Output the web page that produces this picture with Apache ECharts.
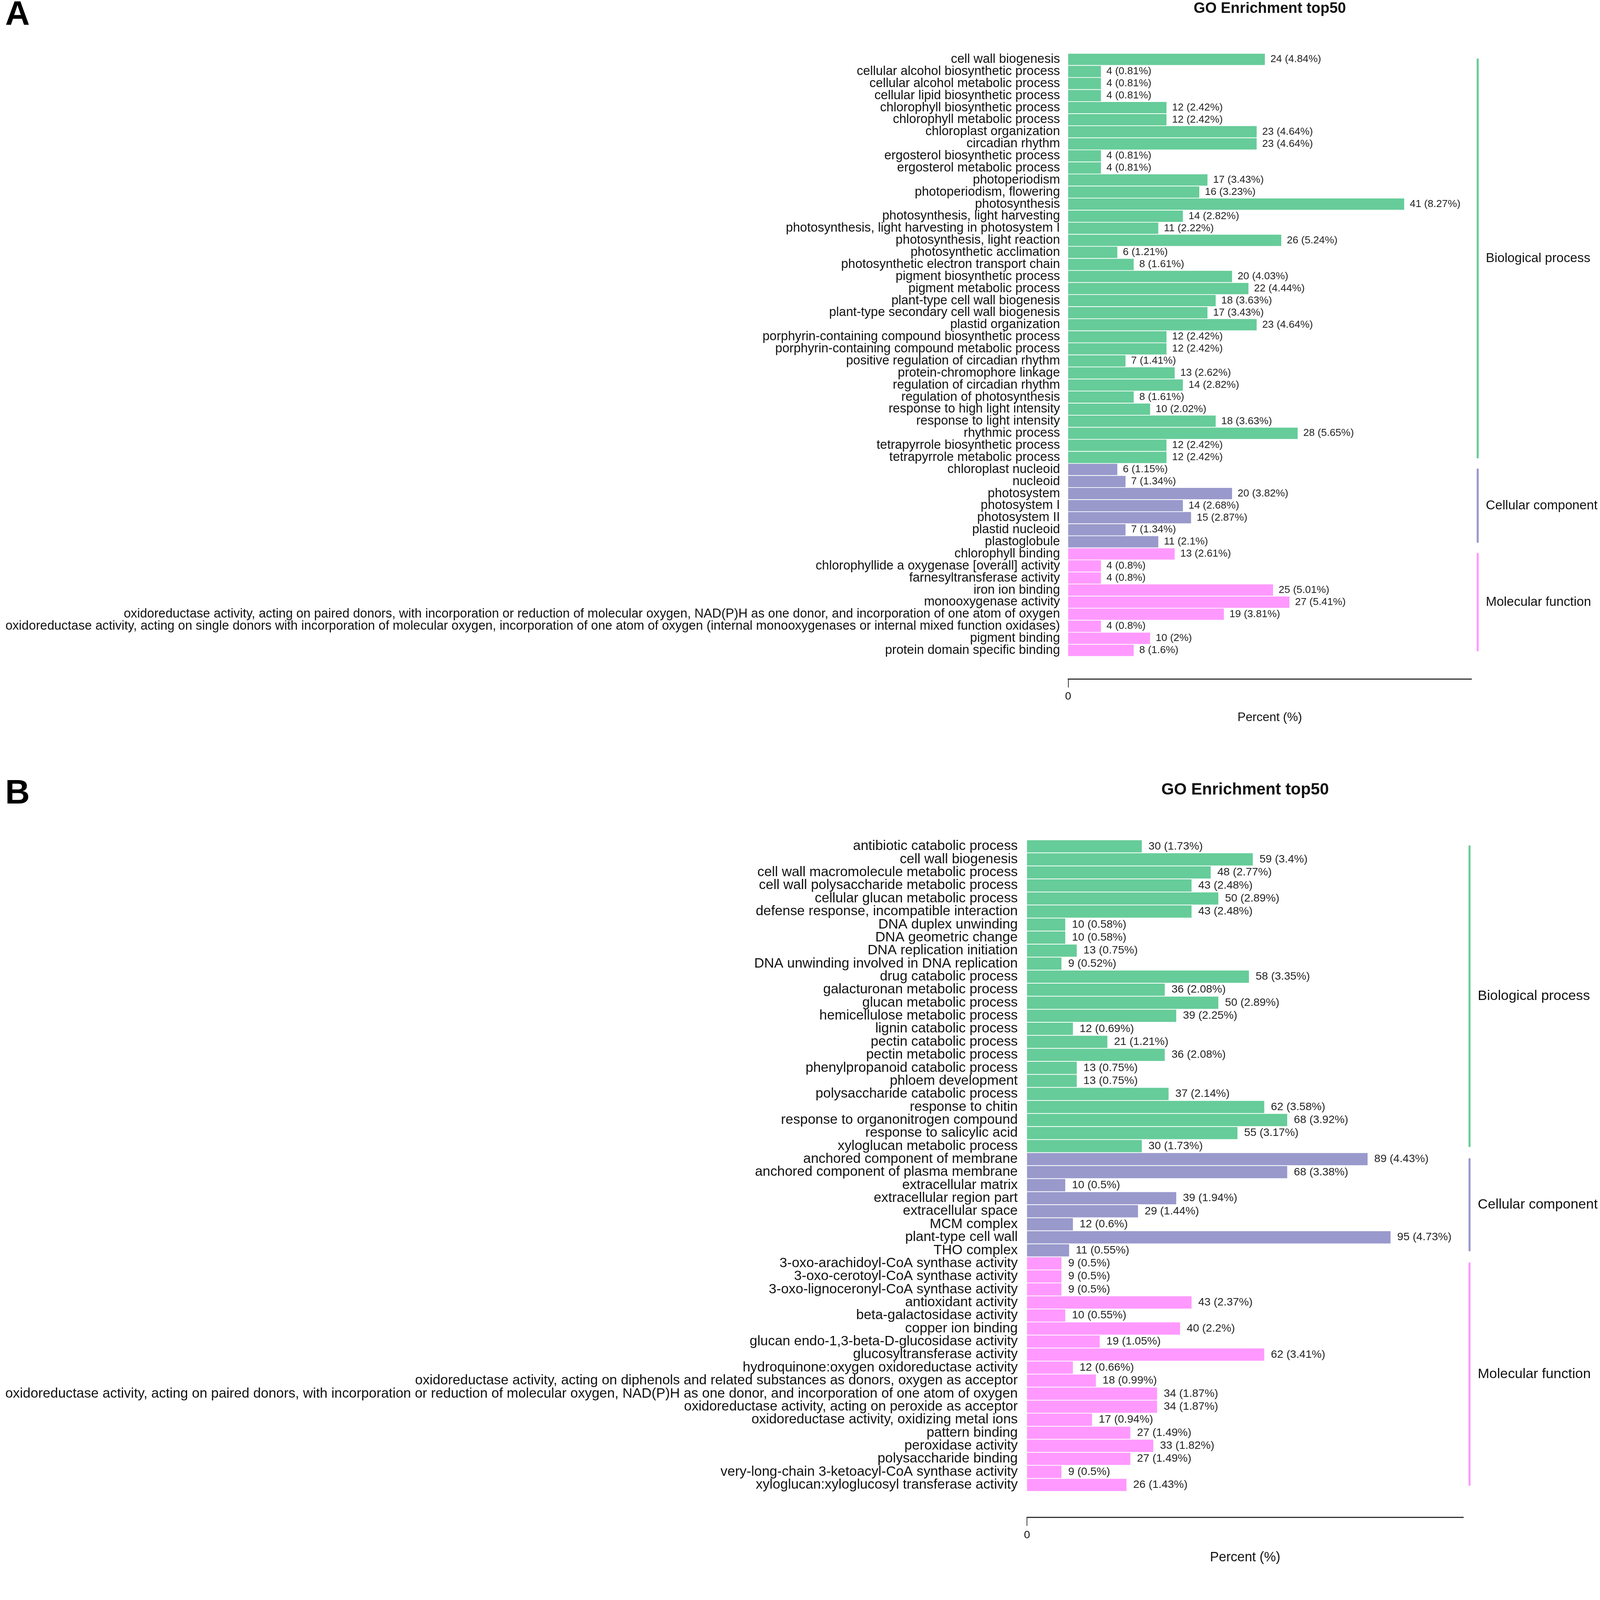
<!DOCTYPE html>
<html lang="en">
<head>
    <meta charset="UTF-8">
    <title>GO Enrichment top50</title>
    <script src="https://cdn.jsdelivr.net/npm/echarts@6.0.0/dist/echarts.min.js"></script>
    <style>
        html, body { margin: 0; padding: 0; background: #fff; overflow: hidden; }
        #chart { width: 100vw; height: 100vh; }
    </style>
</head>
<body>
    <div id="chart"></div>
    <script>
        // panel A
        const termsA = [
            'cell wall biogenesis', 'cellular alcohol biosynthetic process', 'cellular alcohol metabolic process',
            'cellular lipid biosynthetic process', 'chlorophyll biosynthetic process', 'chlorophyll metabolic process',
            'chloroplast organization', 'circadian rhythm', 'ergosterol biosynthetic process', 'ergosterol metabolic process',
            'photoperiodism', 'photoperiodism, flowering', 'photosynthesis', 'photosynthesis, light harvesting',
            'photosynthesis, light harvesting in photosystem I', 'photosynthesis, light reaction', 'photosynthetic acclimation',
            'photosynthetic electron transport chain', 'pigment biosynthetic process', 'pigment metabolic process',
            'plant-type cell wall biogenesis', 'plant-type secondary cell wall biogenesis', 'plastid organization',
            'porphyrin-containing compound biosynthetic process', 'porphyrin-containing compound metabolic process',
            'positive regulation of circadian rhythm', 'protein-chromophore linkage', 'regulation of circadian rhythm',
            'regulation of photosynthesis', 'response to high light intensity', 'response to light intensity',
            'rhythmic process', 'tetrapyrrole biosynthetic process', 'tetrapyrrole metabolic process',
            'chloroplast nucleoid', 'nucleoid', 'photosystem', 'photosystem I', 'photosystem II', 'plastid nucleoid', 'plastoglobule',
            'chlorophyll binding', 'chlorophyllide a oxygenase [overall] activity', 'farnesyltransferase activity',
            'iron ion binding', 'monooxygenase activity',
            'oxidoreductase activity, acting on paired donors, with incorporation or reduction of molecular oxygen, NAD(P)H as one donor, and incorporation of one atom of oxygen',
            'oxidoreductase activity, acting on single donors with incorporation of molecular oxygen, incorporation of one atom of oxygen (internal monooxygenases or internal mixed function oxidases)',
            'pigment binding', 'protein domain specific binding'
        ];
        const countsA = [24, 4, 4, 4, 12, 12, 23, 23, 4, 4, 17, 16, 41, 14, 11, 26, 6, 8, 20, 22, 18, 17, 23, 12, 12, 7, 13, 14, 8, 10, 18, 28, 12, 12,
            6, 7, 20, 14, 15, 7, 11,
            13, 4, 4, 25, 27, 19, 4, 10, 8];
        const pctA = [4.84, 0.81, 0.81, 0.81, 2.42, 2.42, 4.64, 4.64, 0.81, 0.81, 3.43, 3.23, 8.27, 2.82, 2.22, 5.24, 1.21, 1.61, 4.03, 4.44,
            3.63, 3.43, 4.64, 2.42, 2.42, 1.41, 2.62, 2.82, 1.61, 2.02, 3.63, 5.65, 2.42, 2.42,
            1.15, 1.34, 3.82, 2.68, 2.87, 1.34, 2.1,
            2.61, 0.8, 0.8, 5.01, 5.41, 3.81, 0.8, 2, 1.6];
        const groupSizesA = [34, 7, 9];

        // panel B
        const termsB = [
            'antibiotic catabolic process', 'cell wall biogenesis', 'cell wall macromolecule metabolic process',
            'cell wall polysaccharide metabolic process', 'cellular glucan metabolic process', 'defense response, incompatible interaction',
            'DNA duplex unwinding', 'DNA geometric change', 'DNA replication initiation', 'DNA unwinding involved in DNA replication',
            'drug catabolic process', 'galacturonan metabolic process', 'glucan metabolic process', 'hemicellulose metabolic process',
            'lignin catabolic process', 'pectin catabolic process', 'pectin metabolic process', 'phenylpropanoid catabolic process',
            'phloem development', 'polysaccharide catabolic process', 'response to chitin', 'response to organonitrogen compound',
            'response to salicylic acid', 'xyloglucan metabolic process',
            'anchored component of membrane', 'anchored component of plasma membrane', 'extracellular matrix',
            'extracellular region part', 'extracellular space', 'MCM complex', 'plant-type cell wall', 'THO complex',
            '3-oxo-arachidoyl-CoA synthase activity', '3-oxo-cerotoyl-CoA synthase activity', '3-oxo-lignoceronyl-CoA synthase activity',
            'antioxidant activity', 'beta-galactosidase activity', 'copper ion binding', 'glucan endo-1,3-beta-D-glucosidase activity',
            'glucosyltransferase activity', 'hydroquinone:oxygen oxidoreductase activity',
            'oxidoreductase activity, acting on diphenols and related substances as donors, oxygen as acceptor',
            'oxidoreductase activity, acting on paired donors, with incorporation or reduction of molecular oxygen, NAD(P)H as one donor, and incorporation of one atom of oxygen',
            'oxidoreductase activity, acting on peroxide as acceptor', 'oxidoreductase activity, oxidizing metal ions',
            'pattern binding', 'peroxidase activity', 'polysaccharide binding', 'very-long-chain 3-ketoacyl-CoA synthase activity',
            'xyloglucan:xyloglucosyl transferase activity'
        ];
        const countsB = [30, 59, 48, 43, 50, 43, 10, 10, 13, 9, 58, 36, 50, 39, 12, 21, 36, 13, 13, 37, 62, 68, 55, 30,
            89, 68, 10, 39, 29, 12, 95, 11,
            9, 9, 9, 43, 10, 40, 19, 62, 12, 18, 34, 34, 17, 27, 33, 27, 9, 26];
        const pctB = [1.73, 3.4, 2.77, 2.48, 2.89, 2.48, 0.58, 0.58, 0.75, 0.52, 3.35, 2.08, 2.89, 2.25, 0.69, 1.21, 2.08, 0.75, 0.75, 2.14,
            3.58, 3.92, 3.17, 1.73,
            4.43, 3.38, 0.5, 1.94, 1.44, 0.6, 4.73, 0.55,
            0.5, 0.5, 0.5, 2.37, 0.55, 2.2, 1.05, 3.41, 0.66, 0.99, 1.87, 1.87, 0.94, 1.49, 1.82, 1.49, 0.5, 1.43];
        const groupSizesB = [24, 8, 18];

        const groupNames = ['Biological process', 'Cellular component', 'Molecular function'];
        const groupColors = ['#66CC99', '#9999CC', '#FF99FF'];
        const FONT = '"Liberation Sans", Arial, sans-serif';

        // layout is measured on the 4317 px wide picture; the window may be narrower, so scale uniformly
        const k = window.innerWidth / 4317;

        const panels = [
            { letter: 'A', terms: termsA, counts: countsA, pct: pctA, sizes: groupSizesA,
              left: 2882, top: 144, width: 1088, height: 1627, offset: 61, nameGap: 88,
              labelSize: 34.4, valueSize: 28, nameSize: 33, groupSize: 35, titleSize: 40, titleY: 24, letterY: 41, labelMargin: 22, valueDist: 15 },
            { letter: 'B', terms: termsB, counts: countsB, pct: pctB, sizes: groupSizesB,
              left: 2771, top: 2266, width: 1177, height: 1758, offset: 70, nameGap: 91,
              labelSize: 37.2, valueSize: 30, nameSize: 36, groupSize: 37.6, titleSize: 44, titleY: 2132, letterY: 2143, labelMargin: 25, valueDist: 18 }
        ];

        function groupIndexes(sizes) {
            let idx = [];
            sizes.forEach((n, g) => { for (let i = 0; i < n; i++) idx.push(g); });
            return idx;
        }

        let chart = echarts.init(document.getElementById('chart'), null, { renderer: 'canvas' });

        let option = {
            backgroundColor: '#fff',
            animation: false,
            grid: panels.map(p => ({
                left: p.left * k, top: p.top * k, width: p.width * k, height: p.height * k, outerBoundsMode: 'none'
            })),
            xAxis: panels.map((p, i) => ({
                type: 'value',
                gridIndex: i,
                min: 0,
                max: v => v.max * 1.2,
                offset: p.offset * k,
                name: 'Percent (%)',
                nameLocation: 'middle',
                nameGap: p.nameGap * k,
                nameTextStyle: { color: '#111', fontSize: p.nameSize * k, fontFamily: FONT },
                axisLine: { show: true, lineStyle: { color: '#333', width: 3 * k } },
                axisTick: { show: true, customValues: [0], length: 23 * k, lineStyle: { color: '#333', width: 2 * k } },
                axisLabel: { show: true, customValues: [0], margin: 33 * k, color: '#111', fontSize: 30 * k, fontFamily: FONT },
                splitLine: { show: false }
            })),
            yAxis: panels.map((p, i) => ({
                type: 'category',
                gridIndex: i,
                inverse: true,
                data: p.terms,
                axisLine: { show: false },
                axisTick: { show: false },
                axisLabel: { interval: 0, margin: p.labelMargin * k, color: '#111', fontSize: p.labelSize * k, fontFamily: FONT },
                splitLine: { show: false }
            })),
            series: panels.map((p, i) => {
                const grp = groupIndexes(p.sizes);
                return {
                    type: 'bar',
                    xAxisIndex: i,
                    yAxisIndex: i,
                    barCategoryGap: '6%',
                    data: p.counts.map((c, j) => ({ value: c, itemStyle: { color: groupColors[grp[j]] } })),
                    label: {
                        show: true,
                        position: 'right',
                        distance: p.valueDist * k,
                        color: '#222',
                        fontSize: p.valueSize * k,
                        fontFamily: FONT,
                        formatter: d => p.counts[d.dataIndex] + ' (' + p.pct[d.dataIndex] + '%)'
                    }
                };
            })
        };
        chart.setOption(option);

        // titles, panel letters and the group brackets on the right
        let graphics = [];
        panels.forEach((p, i) => {
            graphics.push({
                type: 'text', x: 14 * k, y: p.letterY * k,
                style: { text: p.letter, fill: '#000', fontSize: 92 * k, fontWeight: 'bold', fontFamily: FONT, align: 'left', verticalAlign: 'middle' }
            });
            graphics.push({
                type: 'text', x: (p.left + p.width / 2) * k, y: p.titleY * k,
                style: { text: 'GO Enrichment top50', fill: '#111', fontSize: p.titleSize * k, fontWeight: 'bold', fontFamily: FONT, align: 'center', verticalAlign: 'middle' }
            });
            const bx = (p.left + p.width + 17) * k;
            let start = 0;
            p.sizes.forEach((n, g) => {
                const y1 = chart.convertToPixel({ yAxisIndex: i }, start);
                const y2 = chart.convertToPixel({ yAxisIndex: i }, start + n - 1);
                graphics.push({
                    type: 'line',
                    shape: { x1: bx, y1: y1, x2: bx, y2: y2 },
                    style: { stroke: groupColors[g], lineWidth: 5.5 * k, lineCap: 'round' }
                });
                graphics.push({
                    type: 'text', x: bx + 22 * k, y: (y1 + y2) / 2,
                    style: { text: groupNames[g], fill: '#111', fontSize: p.groupSize * k, fontFamily: FONT, align: 'left', verticalAlign: 'middle' }
                });
                start += n;
            });
        });
        chart.setOption({ graphic: graphics });
    </script>
</body>
</html>
